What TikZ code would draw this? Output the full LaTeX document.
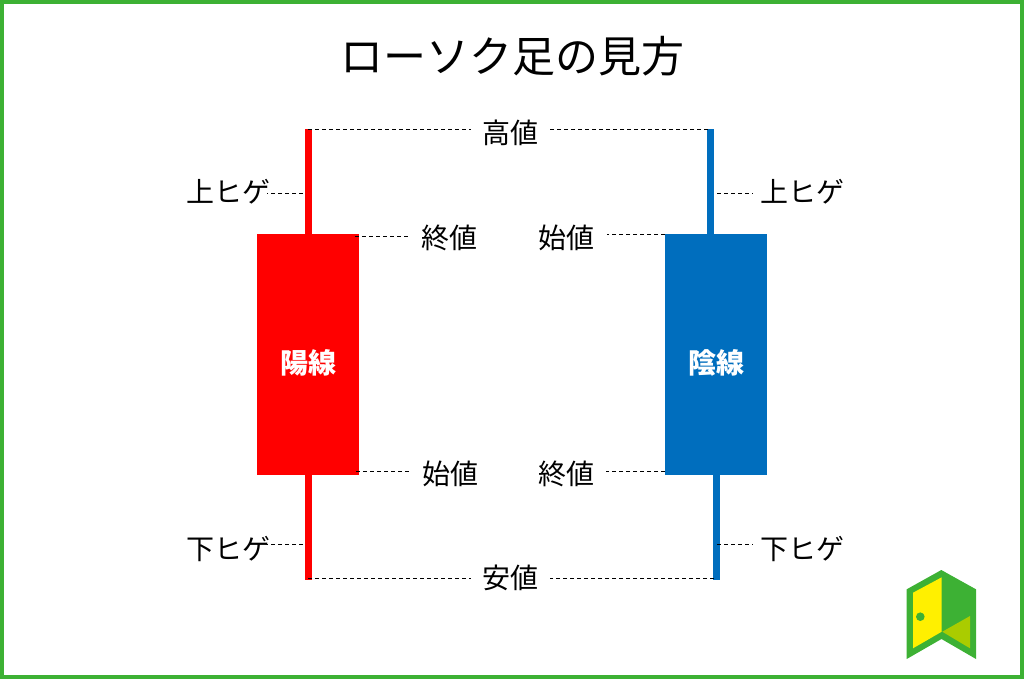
\documentclass[tikz,border=0pt]{standalone}
\usepackage{fontspec}
\setmainfont{Noto Sans CJK JP}
\usetikzlibrary{positioning}

\definecolor{frameGreen}{HTML}{3DB134}
\definecolor{upRed}{HTML}{FF0000}
\definecolor{downBlue}{HTML}{006EBE}
\definecolor{doorYellow}{HTML}{FFF000}
\definecolor{doorLime}{HTML}{AACC00}

\begin{document}
\begin{tikzpicture}[
      x=1pt, y=-1pt,
      body/.style={rectangle, inner sep=0pt, minimum width=102pt, minimum height=241pt},
      wick/.style={rectangle, inner sep=0pt, minimum width=6.5pt, minimum height=105pt},
      price/.style={inner ysep=0pt, inner xsep=12pt, font=\fontsize{28}{28}\selectfont},
      hige/.style={inner ysep=0pt, inner xsep=7pt, font=\fontsize{28}{28}\selectfont},
      kind/.style={text=white, font=\fontsize{28}{28}\selectfont\bfseries},
      leader/.style={line width=1.2pt, dash pattern=on 3.8pt off 3.2pt}
      ]
      \useasboundingbox (0,0) rectangle (1024,679);

      % Frame
      \draw[frameGreen, line width=3.6pt] (1.8,1.8) rectangle (1022.2,677.2);

      % Title
      \node[font=\fontsize{43}{43}\selectfont] (title) at (512,56) {ローソク足の見方};

      % Red candle
      \node[wick, fill=upRed] (redTop) at (308.3,182) {};
      \node[wick, fill=upRed] (redBottom) at (308.3,527.5) {};
      \node[body, fill=upRed] (redBody) at (307.7,354.5) {};
      \node[kind] (redName) at (308,362.5) {陽線};

      % Blue candle
      \node[wick, fill=downBlue] (blueTop) at (710.5,182) {};
      \node[wick, fill=downBlue] (blueBottom) at (716.5,527.5) {};
      \node[body, fill=downBlue] (blueBody) at (716,354.5) {};
      \node[kind] (blueName) at (716,362.5) {陰線};

      % Labels
      \node[price, inner xsep=11pt] (high) at (510.5,132.5) {高値};
      \node[price, inner xsep=11pt] (low) at (510.5,577.5) {安値};
      \node[price] (redClose) at (449,237.5) {終値};
      \node[price] (redOpen) at (450,473.5) {始値};
      \node[price] (blueOpen) at (566.5,237.5) {始値};
      \node[price] (blueClose) at (566,473.5) {終値};
      \node[hige, inner xsep=-3pt] (redUp) at (228,191.5) {上ヒゲ};
      \node[hige, inner xsep=-3pt] (redDown) at (228,548.5) {下ヒゲ};
      \node[hige] (blueUp) at (802,191.5) {上ヒゲ};
      \node[hige] (blueDown) at (802,548.5) {下ヒゲ};

      % Leader ends
      \coordinate (redHighEnd) at (308,129.5);
      \coordinate (blueHighEnd) at (708,129.5);
      \coordinate (redLowEnd) at (308,578.5);
      \coordinate (blueLowEnd) at (714,578.5);
      \coordinate (redCloseEnd) at (355,236.5);
      \coordinate (redOpenEnd) at (356,471.5);
      \coordinate (blueOpenEnd) at (665,234.5);
      \coordinate (blueCloseEnd) at (665,471.5);
      \coordinate (redUpEnd) at (303,193.5);
      \coordinate (redDownEnd) at (303,544.5);
      \coordinate (blueUpEnd) at (717,193.5);
      \coordinate (blueDownEnd) at (717,544.5);

      % Leaders
      \draw[leader] (redHighEnd) -- (redHighEnd -| high.west);
      \draw[leader] (blueHighEnd) -- (blueHighEnd -| high.east);
      \draw[leader] (redLowEnd) -- (redLowEnd -| low.west);
      \draw[leader] (blueLowEnd) -- (blueLowEnd -| low.east);
      \draw[leader] (redCloseEnd) -- (redCloseEnd -| redClose.west);
      \draw[leader] (redOpenEnd) -- (redOpenEnd -| redOpen.west);
      \draw[leader] (blueOpenEnd) -- (blueOpenEnd -| blueOpen.east);
      \draw[leader] (blueCloseEnd) -- (blueCloseEnd -| blueClose.east);
      \draw[leader] (redUpEnd) -- (redUpEnd -| redUp.east);
      \draw[leader] (redDownEnd) -- (redDownEnd -| redDown.east);
      \draw[leader] (blueUpEnd) -- (blueUpEnd -| blueUp.west);
      \draw[leader] (blueDownEnd) -- (blueDownEnd -| blueDown.west);

      % Door mark
      \fill[frameGreen] (906.7,589.3) -- (941.3,570) -- (976,589.3) -- (976,659) -- (941.5,639) -- (906.7,659) -- cycle;
      \fill[doorYellow] (913,592.7) -- (941.7,577.3) -- (941.7,631.7) -- (913,648.3) -- cycle;
      \fill[doorLime] (942.3,631.7) -- (970,616) -- (970,648.3) -- cycle;
      \fill[frameGreen] (920.3,616.7) circle (4.3);
   \end{tikzpicture}
\end{document}
